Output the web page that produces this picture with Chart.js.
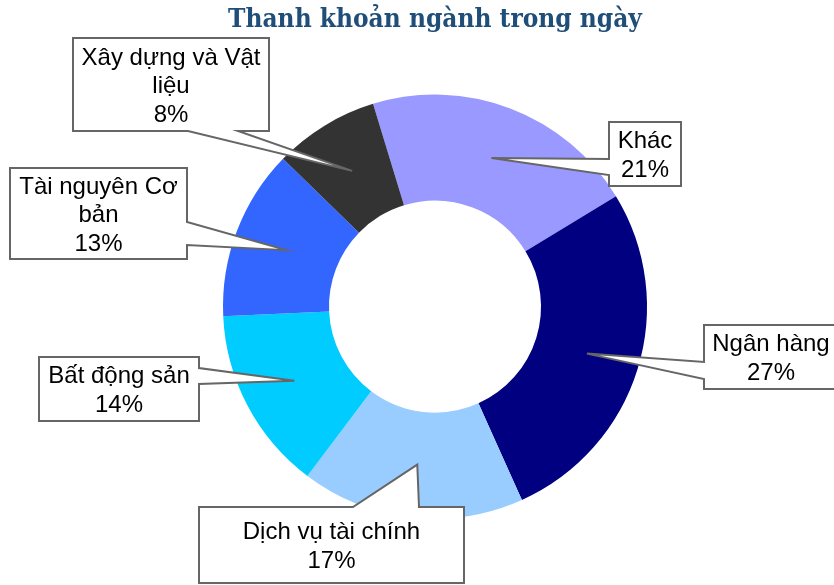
<!DOCTYPE html>
<html>
<head>
<meta charset="utf-8">
<script src="https://cdn.jsdelivr.net/npm/chart.js@4"></script>
<style>
  html, body { margin: 0; padding: 0; background: #fff; }
</style>
</head>
<body>
<canvas id="chart" width="834" height="585"></canvas>
<script>
const chartTitle = 'Thanh khoản ngành trong ngày';
const categories = ['Khác', 'Ngân hàng', 'Dịch vụ tài chính', 'Bất động sản', 'Tài nguyên Cơ bản', 'Xây dựng và Vật liệu'];
const shares = [21, 27, 17, 14, 13, 8]; // % of daily turnover
const sliceColors = ['#9999ff', '#000080', '#99ccff', '#00ccff', '#3366ff', '#333333'];

// Callout boxes (layout only): box rect, which side the pointer leaves from,
// and where along that side the pointer base sits (offsets from box corner)
const calloutLayout = [
    { x: 609, y: 122, w: 72,  h: 64, side: 'left',   base: [37, 53] },
    { x: 704, y: 325, w: 134, h: 64, side: 'left',   base: [37, 54] },
    { x: 199, y: 507, w: 265, h: 76, side: 'top',    base: [154, 220] },
    { x: 39,  y: 357, w: 160, h: 64, side: 'right',  base: [11, 27] },
    { x: 10,  y: 168, w: 177, h: 91, side: 'right',  base: [54, 77] },
    { x: 73,  y: 38,  w: 196, h: 93, side: 'bottom', base: [115, 165] }
];

function wrapText(ctx, text, maxWidth) {
    const words = text.split(' ');
    const lines = [];
    let line = '';
    words.forEach(w => {
        const test = line ? line + ' ' + w : w;
        if (line && ctx.measureText(test).width > maxWidth) {
            lines.push(line);
            line = w;
        } else {
            line = test;
        }
    });
    if (line) lines.push(line);
    return lines;
}

// builds the box outline with the wedge pointer cut into one side
function calloutPath(ctx, b, tip) {
    const { x, y, w, h, side, base } = b;
    ctx.beginPath();
    ctx.moveTo(x, y);
    if (side === 'top') {
        ctx.lineTo(x + base[0], y); ctx.lineTo(tip.x, tip.y); ctx.lineTo(x + base[1], y);
    }
    ctx.lineTo(x + w, y);
    if (side === 'right') {
        ctx.lineTo(x + w, y + base[0]); ctx.lineTo(tip.x, tip.y); ctx.lineTo(x + w, y + base[1]);
    }
    ctx.lineTo(x + w, y + h);
    if (side === 'bottom') {
        ctx.lineTo(x + base[1], y + h); ctx.lineTo(tip.x, tip.y); ctx.lineTo(x + base[0], y + h);
    }
    ctx.lineTo(x, y + h);
    if (side === 'left') {
        ctx.lineTo(x, y + base[1]); ctx.lineTo(tip.x, tip.y); ctx.lineTo(x, y + base[0]);
    }
    ctx.closePath();
}

const calloutPlugin = {
    id: 'callouts',
    afterDatasetsDraw(chart, args, opts) {
        const ctx = chart.ctx;
        const meta = chart.getDatasetMeta(0);
        const values = chart.data.datasets[0].data;
        const total = values.reduce((a, b) => a + b, 0);

        ctx.save();
        meta.data.forEach((arc, i) => {
            const box = opts.boxes[i];
            if (!box) return;
            const tip = arc.getCenterPoint();

            calloutPath(ctx, box, tip);
            ctx.fillStyle = '#ffffff';
            ctx.fill();
            ctx.lineWidth = 2;
            ctx.lineJoin = 'miter';
            ctx.strokeStyle = '#666666';
            ctx.stroke();

            ctx.font = opts.font;
            ctx.fillStyle = '#000000';
            ctx.textAlign = 'center';
            ctx.textBaseline = 'middle';
            const lines = wrapText(ctx, chart.data.labels[i], box.w - 8);
            lines.push(Math.round(values[i] / total * 100) + '%');
            const lh = opts.lineHeight;
            const cx = box.x + box.w / 2;
            const top = box.y + box.h / 2 + 2 - (lines.length - 1) * lh / 2;
            lines.forEach((ln, k) => ctx.fillText(ln, cx, top + k * lh));
        });
        ctx.restore();
    }
};

new Chart(document.getElementById('chart'), {
    type: 'doughnut',
    data: {
        labels: categories,
        datasets: [{
            data: shares,
            backgroundColor: sliceColors,
            borderWidth: 0,
            hoverOffset: 0
        }]
    },
    options: {
        responsive: false,
        animation: false,
        rotation: -17,
        cutout: '50%',
        radius: 212,
        layout: { padding: { left: 36, right: 0, top: 0, bottom: 12 } },
        plugins: {
            legend: { display: false },
            tooltip: { enabled: false },
            title: {
                display: true,
                text: chartTitle,
                color: '#1f4e79',
                font: { family: '"DejaVu Serif Condensed", "DejaVu Serif", serif', size: 26, weight: 'bold', lineHeight: 1.2 },
                padding: { top: 5, bottom: 4 }
            },
            callouts: {
                boxes: calloutLayout,
                font: '24px "Liberation Sans", Arial, sans-serif',
                lineHeight: 28.5
            }
        }
    },
    plugins: [calloutPlugin]
});
</script>
</body>
</html>
